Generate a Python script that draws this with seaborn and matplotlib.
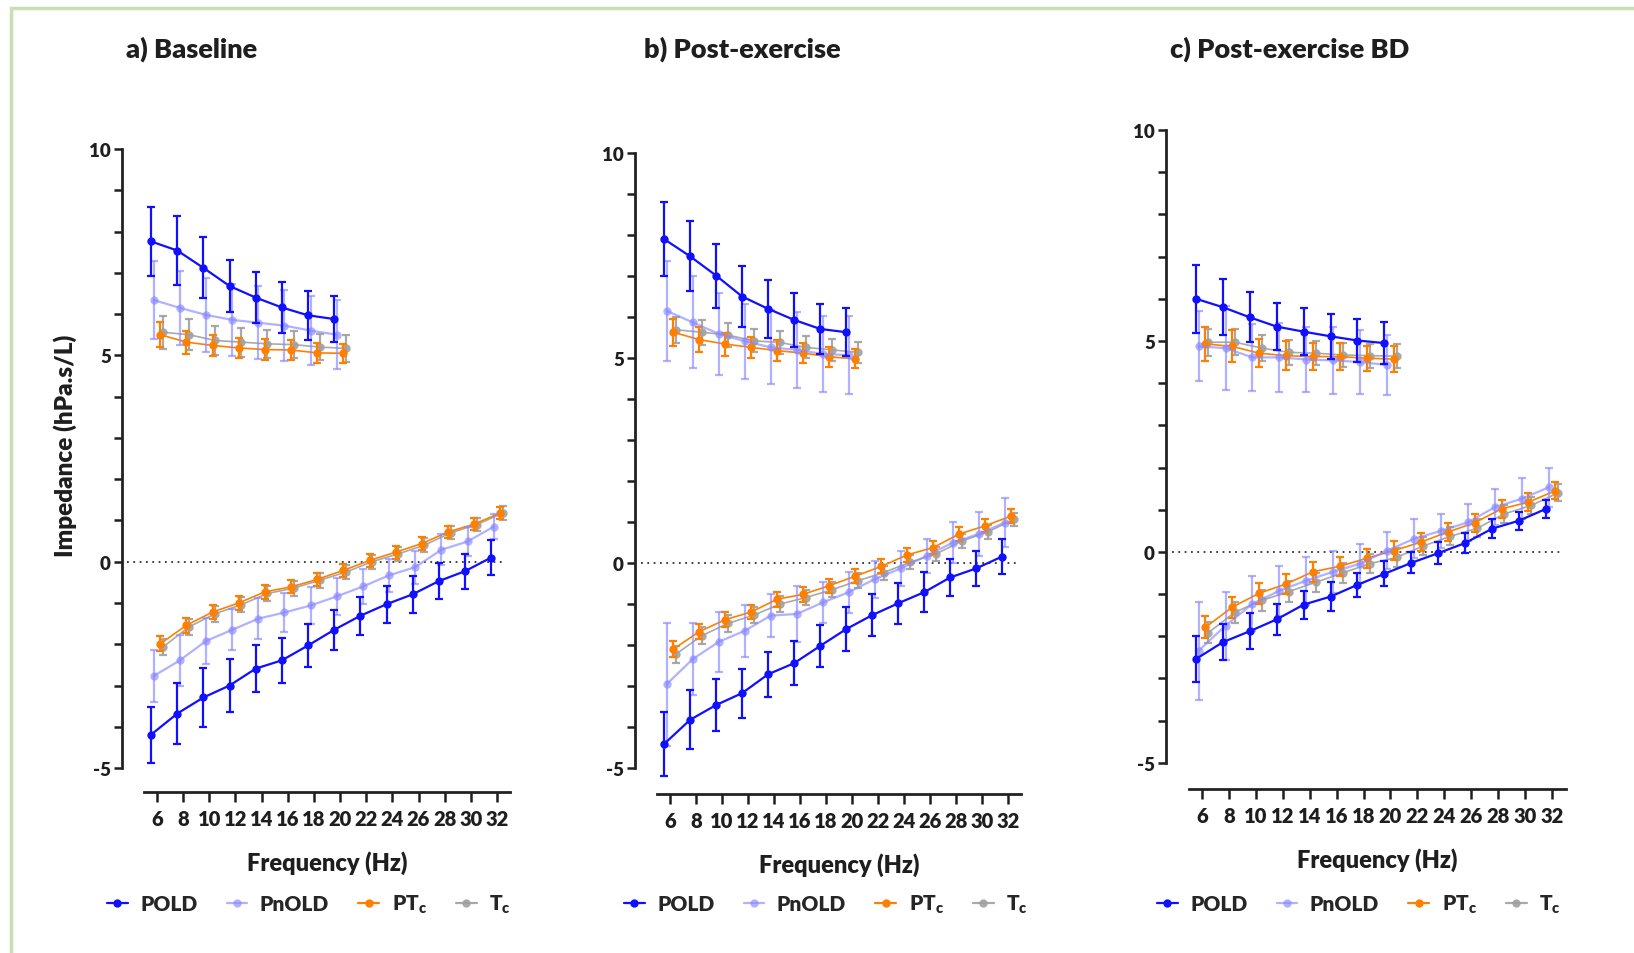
import matplotlib
matplotlib.use("Agg")
import matplotlib.pyplot as plt
import seaborn as sns
import pandas as pd
from matplotlib.patches import Rectangle
from matplotlib.lines import Line2D

# ---------------- data ----------------
freq_R = [6, 8, 10, 12, 14, 16, 18, 20]
freq_X = [6, 8, 10, 12, 14, 16, 18, 20, 22, 24, 26, 28, 30, 32]
x_ticks = [6, 8, 10, 12, 14, 16, 18, 20, 22, 24, 26, 28, 30, 32]
y_labels = [-5, 0, 5, 10]
series = ["POLD", "PnOLD", "PTc", "Tc"]
legend_labels = ["POLD", "PnOLD", r"PT$_{\mathbf{c}}$", r"T$_{\mathbf{c}}$"]
panel_titles = ["a) Baseline", "b) Post-exercise", "c) Post-exercise BD"]

# Panel a (Baseline)
a_R_POLD = [7.76, 7.54, 7.12, 6.68, 6.40, 6.16, 5.97, 5.88]
a_R_POLD_sd = [0.84, 0.83, 0.74, 0.64, 0.62, 0.61, 0.59, 0.56]
a_R_PnOLD = [6.34, 6.15, 5.98, 5.86, 5.79, 5.72, 5.60, 5.50]
a_R_PnOLD_sd = [0.95, 0.90, 0.90, 0.88, 0.88, 0.86, 0.84, 0.84]
a_R_PTc = [5.50, 5.32, 5.24, 5.18, 5.14, 5.13, 5.06, 5.05]
a_R_PTc_sd = [0.30, 0.28, 0.26, 0.25, 0.25, 0.24, 0.24, 0.23]
a_R_Tc = [5.56, 5.50, 5.36, 5.32, 5.28, 5.26, 5.20, 5.17]
a_R_Tc_sd = [0.40, 0.38, 0.36, 0.35, 0.34, 0.33, 0.32, 0.32]
a_X_POLD = [-4.19, -3.68, -3.29, -3.00, -2.59, -2.39, -2.03, -1.65, -1.31, -1.03, -0.79, -0.47, -0.23, 0.10]
a_X_POLD_sd = [0.68, 0.74, 0.72, 0.65, 0.57, 0.54, 0.51, 0.48, 0.46, 0.45, 0.45, 0.44, 0.42, 0.42]
a_X_PnOLD = [-2.77, -2.39, -1.92, -1.65, -1.38, -1.23, -1.06, -0.84, -0.60, -0.33, -0.13, 0.29, 0.49, 0.85]
a_X_PnOLD_sd = [0.62, 0.62, 0.55, 0.50, 0.50, 0.48, 0.45, 0.45, 0.42, 0.40, 0.40, 0.38, 0.35, 0.30]
a_X_PTc = [-1.99, -1.54, -1.22, -1.00, -0.73, -0.61, -0.43, -0.21, 0.03, 0.23, 0.44, 0.72, 0.91, 1.18]
a_X_PTc_sd = [0.18, 0.18, 0.17, 0.17, 0.17, 0.16, 0.16, 0.16, 0.16, 0.16, 0.15, 0.15, 0.15, 0.15]
a_X_Tc = [-2.07, -1.58, -1.26, -1.04, -0.77, -0.64, -0.45, -0.25, 0.00, 0.19, 0.40, 0.70, 0.90, 1.18]
a_X_Tc_sd = [0.20, 0.20, 0.19, 0.19, 0.18, 0.18, 0.18, 0.17, 0.17, 0.17, 0.17, 0.16, 0.16, 0.16]

# Panel b (Post-exercise)
b_R_POLD = [7.90, 7.48, 7.01, 6.50, 6.20, 5.93, 5.71, 5.63]
b_R_POLD_sd = [0.91, 0.85, 0.78, 0.74, 0.70, 0.65, 0.62, 0.59]
b_R_PnOLD = [6.15, 5.87, 5.59, 5.41, 5.26, 5.20, 5.10, 5.07]
b_R_PnOLD_sd = [1.22, 1.12, 1.00, 0.92, 0.90, 0.92, 0.92, 0.95]
b_R_PTc = [5.63, 5.45, 5.34, 5.26, 5.18, 5.12, 5.03, 4.98]
b_R_PTc_sd = [0.33, 0.30, 0.28, 0.26, 0.25, 0.24, 0.24, 0.23]
b_R_Tc = [5.69, 5.63, 5.56, 5.42, 5.38, 5.26, 5.20, 5.14]
b_R_Tc_sd = [0.32, 0.30, 0.30, 0.28, 0.28, 0.27, 0.26, 0.26]
b_X_POLD = [-4.41, -3.82, -3.46, -3.17, -2.71, -2.44, -2.02, -1.61, -1.27, -0.98, -0.71, -0.35, -0.13, 0.16]
b_X_POLD_sd = [0.77, 0.72, 0.63, 0.60, 0.55, 0.53, 0.51, 0.53, 0.51, 0.50, 0.49, 0.46, 0.43, 0.42]
b_X_PnOLD = [-2.95, -2.34, -1.92, -1.65, -1.28, -1.24, -0.96, -0.71, -0.39, -0.13, 0.18, 0.50, 0.71, 0.99]
b_X_PnOLD_sd = [1.50, 0.88, 0.74, 0.63, 0.53, 0.69, 0.49, 0.50, 0.45, 0.42, 0.42, 0.50, 0.53, 0.59]
b_X_PTc = [-2.10, -1.67, -1.38, -1.19, -0.88, -0.76, -0.55, -0.32, -0.08, 0.20, 0.38, 0.71, 0.91, 1.15]
b_X_PTc_sd = [0.20, 0.19, 0.19, 0.18, 0.18, 0.18, 0.17, 0.17, 0.17, 0.17, 0.17, 0.16, 0.16, 0.16]
b_X_Tc = [-2.22, -1.77, -1.47, -1.27, -1.00, -0.84, -0.65, -0.43, -0.23, 0.02, 0.22, 0.54, 0.76, 1.07]
b_X_Tc_sd = [0.21, 0.20, 0.20, 0.19, 0.19, 0.18, 0.18, 0.18, 0.17, 0.17, 0.17, 0.17, 0.16, 0.16]

# Panel c (Post-exercise BD)
c_R_POLD = [6.00, 5.80, 5.56, 5.34, 5.22, 5.11, 5.01, 4.95]
c_R_POLD_sd = [0.81, 0.67, 0.59, 0.55, 0.55, 0.53, 0.51, 0.50]
c_R_PnOLD = [4.87, 4.83, 4.61, 4.61, 4.56, 4.54, 4.50, 4.43]
c_R_PnOLD_sd = [0.83, 1.00, 0.80, 0.81, 0.77, 0.79, 0.75, 0.71]
c_R_PTc = [4.93, 4.87, 4.71, 4.65, 4.63, 4.63, 4.59, 4.57]
c_R_PTc_sd = [0.40, 0.38, 0.33, 0.35, 0.33, 0.33, 0.30, 0.30]
c_R_Tc = [4.97, 4.97, 4.83, 4.73, 4.71, 4.67, 4.65, 4.64]
c_R_Tc_sd = [0.32, 0.31, 0.30, 0.30, 0.29, 0.29, 0.28, 0.28]
c_X_POLD = [-2.54, -2.14, -1.88, -1.60, -1.25, -1.06, -0.78, -0.52, -0.26, -0.03, 0.21, 0.55, 0.74, 1.02]
c_X_POLD_sd = [0.55, 0.42, 0.43, 0.37, 0.33, 0.34, 0.28, 0.30, 0.25, 0.26, 0.24, 0.22, 0.21, 0.22]
c_X_PnOLD = [-2.34, -1.75, -1.23, -0.92, -0.68, -0.47, -0.28, 0.03, 0.31, 0.50, 0.70, 1.06, 1.26, 1.53]
c_X_PnOLD_sd = [1.16, 0.81, 0.65, 0.59, 0.57, 0.50, 0.46, 0.43, 0.46, 0.41, 0.43, 0.43, 0.49, 0.46]
c_X_PTc = [-1.79, -1.31, -0.98, -0.76, -0.47, -0.34, -0.15, 0.03, 0.23, 0.47, 0.69, 1.02, 1.18, 1.45]
c_X_PTc_sd = [0.26, 0.25, 0.25, 0.24, 0.24, 0.23, 0.23, 0.22, 0.22, 0.22, 0.21, 0.21, 0.21, 0.20]
c_X_Tc = [-1.92, -1.43, -1.15, -0.94, -0.72, -0.50, -0.28, -0.13, 0.14, 0.37, 0.56, 0.90, 1.10, 1.40]
c_X_Tc_sd = [0.25, 0.25, 0.24, 0.24, 0.23, 0.23, 0.22, 0.22, 0.22, 0.21, 0.21, 0.21, 0.20, 0.20]

panels_data = {
    "a": {"R": {"POLD": (a_R_POLD, a_R_POLD_sd), "PnOLD": (a_R_PnOLD, a_R_PnOLD_sd),
                "PTc": (a_R_PTc, a_R_PTc_sd), "Tc": (a_R_Tc, a_R_Tc_sd)},
          "X": {"POLD": (a_X_POLD, a_X_POLD_sd), "PnOLD": (a_X_PnOLD, a_X_PnOLD_sd),
                "PTc": (a_X_PTc, a_X_PTc_sd), "Tc": (a_X_Tc, a_X_Tc_sd)}},
    "b": {"R": {"POLD": (b_R_POLD, b_R_POLD_sd), "PnOLD": (b_R_PnOLD, b_R_PnOLD_sd),
                "PTc": (b_R_PTc, b_R_PTc_sd), "Tc": (b_R_Tc, b_R_Tc_sd)},
          "X": {"POLD": (b_X_POLD, b_X_POLD_sd), "PnOLD": (b_X_PnOLD, b_X_PnOLD_sd),
                "PTc": (b_X_PTc, b_X_PTc_sd), "Tc": (b_X_Tc, b_X_Tc_sd)}},
    "c": {"R": {"POLD": (c_R_POLD, c_R_POLD_sd), "PnOLD": (c_R_PnOLD, c_R_PnOLD_sd),
                "PTc": (c_R_PTc, c_R_PTc_sd), "Tc": (c_R_Tc, c_R_Tc_sd)},
          "X": {"POLD": (c_X_POLD, c_X_POLD_sd), "PnOLD": (c_X_PnOLD, c_X_PnOLD_sd),
                "PTc": (c_X_PTc, c_X_PTc_sd), "Tc": (c_X_Tc, c_X_Tc_sd)}},
}

# ---------------- styling ----------------
sns.set_style("ticks")
plt.rcParams['font.family'] = ['Lato', 'DejaVu Sans']
plt.rcParams['font.weight'] = 'heavy'
plt.rcParams['mathtext.fontset'] = 'custom'
plt.rcParams['mathtext.rm'] = 'Lato:heavy'
plt.rcParams['mathtext.bf'] = 'Lato:heavy'
plt.rcParams['mathtext.it'] = 'Lato:heavy'
FW = "heavy"
TXT = "#1e1e1e"

style = {
    "POLD":  dict(color="#1010ff", alpha=1.0, lw=1.6, ms=6, off=-0.45, z=5),
    "PnOLD": dict(color="#8888ff", alpha=0.65, lw=1.6, ms=6, off=-0.25, z=4),
    "PTc":   dict(color="#ff8000", alpha=1.0, lw=1.2, ms=6, off=0.25, z=3),
    "Tc":    dict(color="#a0a0a0", alpha=0.9, lw=1.2, ms=6, off=0.45, z=2),
}

W, H = 1634, 954
fig = plt.figure(figsize=(W / 100, H / 100), dpi=100)

# border
fig.patches.append(Rectangle((11 / W, -0.05), 1.2, 1 - 9 / H + 0.05, transform=fig.transFigure,
                             fill=False, edgecolor="#c6e0b4", lw=2.5, zorder=0))

# pixel layout
layout = {
    "a": dict(x0=143.9, x1=510.1, ytop=150, ybot=793, ymin=-5.58, spine=122, title_x=126, leg_cx=309),
    "b": dict(x0=657.0, x1=1021.0, ytop=154, ybot=795, ymin=-5.63, spine=635, title_x=644, leg_cx=826),
    "c": dict(x0=1188.5, x1=1565.5, ytop=131, ybot=790, ymin=-5.62, spine=1166, title_x=1170, leg_cx=1359),
}

for (key, L), title in zip(layout.items(), panel_titles):
    ax = fig.add_axes([L["x0"] / W, 1 - L["ybot"] / H, (L["x1"] - L["x0"]) / W, (L["ybot"] - L["ytop"]) / H])
    ax.set_facecolor("none")
    for s in series:
        st = style[s]
        for kind, fr in (("R", freq_R), ("X", freq_X)):
            mean, sd = panels_data[key][kind][s]
            df = pd.DataFrame({"freq": fr, "mean": mean, "sd": sd})
            df["xpos"] = df["freq"] + st["off"]
            ax.errorbar(df["xpos"], df["mean"], yerr=df["sd"], fmt="none", ecolor=st["color"],
                        elinewidth=1.6, capsize=3, capthick=1.6, alpha=st["alpha"], zorder=st["z"])
            sns.lineplot(data=df, x="xpos", y="mean", ax=ax, color=st["color"], marker="o",
                         markersize=st["ms"], markeredgewidth=0, lw=st["lw"], alpha=st["alpha"],
                         legend=False, zorder=st["z"] + 0.5, estimator=None, sort=False)
    ax.axhline(0, xmin=-0.045, xmax=0.99, ls=(0, (1, 2.5)), color="#333333", lw=1.3, clip_on=False, zorder=1)
    ax.set_xlim(5, 33)
    ax.set_ylim(L["ymin"], 10)
    sns.despine(ax=ax)
    ax.spines["left"].set_position(("outward", (L["x0"] - L["spine"]) * 0.72))
    ax.spines["left"].set_bounds(-5, 10)
    for sp in ("left", "bottom"):
        ax.spines[sp].set_linewidth(2.0)
        ax.spines[sp].set_color("#222222")
    ax.set_yticks(range(-5, 11))
    ax.set_yticklabels([str(v) if v in y_labels else "" for v in range(-5, 11)])
    ax.set_xticks(x_ticks)
    ax.set_xticklabels([str(v) for v in x_ticks])
    ax.tick_params(axis="y", length=6, width=1.8, pad=2, labelsize=13.5, colors=TXT)
    ax.tick_params(axis="x", length=7, width=1.8, pad=5, labelsize=14.5, colors=TXT)
    for lab in ax.get_xticklabels() + ax.get_yticklabels():
        lab.set_fontweight(FW)
    ax.set_xlabel("Frequency (Hz)", fontsize=17, fontweight=FW, labelpad=16, color=TXT)
    ax.set_ylabel("")
    fig.text(L["title_x"] / W, 1 - 49 / H, title, fontsize=19.5, fontweight=FW, ha="left", va="center",
             color=TXT)
    handles = [Line2D([0], [0], color=style[s]["color"], alpha=style[s]["alpha"], lw=1.6, marker="o",
                      markersize=6, markeredgewidth=0) for s in series]
    ax.legend(handles, legend_labels, loc="center", bbox_to_anchor=(L["leg_cx"] / W, 1 - 905 / H),
              bbox_transform=fig.transFigure, ncol=4, frameon=False, handlelength=1.0,
              columnspacing=1.4, handletextpad=0.6, prop={"size": 15, "weight": FW})

fig.text(65 / W, 1 - 446 / H, "Impedance (hPa.s/L)", rotation=90, fontsize=17.5, fontweight=FW,
         ha="center", va="center", color=TXT)

fig.savefig("out.png", dpi=100)
